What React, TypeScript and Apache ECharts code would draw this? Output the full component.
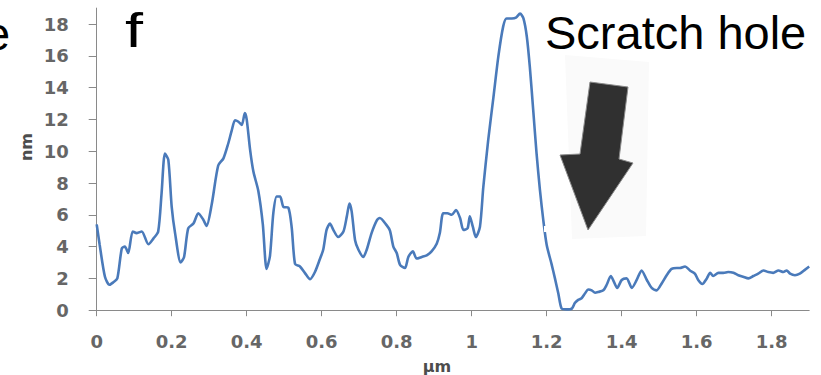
import React, { useEffect, useRef } from "react";
import * as echarts from "echarts";

// Lateral position along the scan (µm)
const positionsUm: number[] = [
  0, 0.008, 0.022, 0.034, 0.044, 0.055, 0.067, 0.075, 0.084, 0.096, 0.107, 0.12, 0.138, 0.151, 0.164, 0.173,
  0.182, 0.191, 0.2, 0.209, 0.224, 0.233, 0.244, 0.258, 0.271, 0.284, 0.293, 0.307, 0.324, 0.338, 0.351, 0.36,
  0.369, 0.378, 0.387, 0.395, 0.4, 0.409, 0.418, 0.431, 0.443, 0.453, 0.462, 0.471, 0.48, 0.489, 0.498, 0.511,
  0.52, 0.529, 0.542, 0.555, 0.569, 0.582, 0.595, 0.604, 0.613, 0.622, 0.631, 0.644, 0.658, 0.667, 0.674, 0.68,
  0.689, 0.698, 0.711, 0.72, 0.733, 0.747, 0.755, 0.773, 0.782, 0.791, 0.8, 0.809, 0.822, 0.831, 0.843, 0.853,
  0.867, 0.88, 0.893, 0.907, 0.915, 0.924, 0.935, 0.947, 0.958, 0.969, 0.978, 0.989, 0.995, 1.003, 1.011, 1.022,
  1.031, 1.044, 1.058, 1.071, 1.084, 1.093, 1.107, 1.118, 1.129, 1.138, 1.147, 1.155, 1.164, 1.173, 1.182, 1.191,
  1.2, 1.213, 1.222, 1.231, 1.24, 1.253, 1.267, 1.275, 1.284, 1.293, 1.302, 1.311, 1.32, 1.329, 1.338, 1.351,
  1.36, 1.371, 1.379, 1.388, 1.4, 1.413, 1.427, 1.44, 1.453, 1.467, 1.48, 1.493, 1.507, 1.52, 1.533, 1.547,
  1.555, 1.569, 1.582, 1.595, 1.604, 1.615, 1.627, 1.636, 1.644, 1.658, 1.671, 1.684, 1.698, 1.711, 1.724, 1.738,
  1.751, 1.764, 1.778, 1.791, 1.804, 1.818, 1.831, 1.84, 1.849, 1.862, 1.875, 1.889, 1.9,
];

// Surface height (nm)
const heightsNm: number[] = [
  5.4, 4.1, 2.1, 1.6, 1.75, 2.0, 3.9, 4.0, 3.6, 4.95, 4.85, 4.95, 4.15, 4.5, 4.95, 7.35,
  9.85, 9.45, 6.5, 4.85, 3.0, 3.35, 5.15, 5.45, 6.1, 5.7, 5.3, 6.7, 9.1, 9.55, 10.5, 11.3,
  11.95, 11.85, 11.65, 12.4, 12.0, 10.1, 8.7, 7.5, 5.4, 2.6, 3.4, 6.1, 7.15, 7.15, 6.5, 6.45,
  5.2, 2.9, 2.75, 2.35, 1.95, 2.4, 3.2, 3.8, 5.05, 5.45, 5.05, 4.6, 4.95, 5.9, 6.7, 6.2,
  4.4, 3.8, 3.35, 3.8, 4.85, 5.65, 5.8, 5.35, 5.0, 4.0, 3.6, 2.85, 2.65, 3.35, 3.7, 3.25,
  3.35, 3.45, 3.7, 4.2, 4.85, 6.1, 6.1, 6.0, 6.3, 5.8, 5.05, 5.15, 5.9, 5.25, 4.6, 5.25,
  7.75, 10.7, 13.4, 15.95, 17.85, 18.35, 18.35, 18.4, 18.65, 18.35, 17.2, 15.3, 12.6, 9.85, 7.55, 5.65,
  4.1, 2.9, 2.0, 1.05, 0.1, 0.05, 0.1, 0.45, 0.65, 0.75, 1.05, 1.3, 1.25, 1.1, 1.15, 1.25,
  1.6, 2.15, 1.8, 1.4, 1.9, 2.0, 1.4, 1.9, 2.5, 1.9, 1.4, 1.25, 1.7, 2.2, 2.6, 2.65,
  2.65, 2.75, 2.5, 2.3, 1.9, 1.65, 2.0, 2.35, 2.15, 2.35, 2.35, 2.4, 2.35, 2.2, 2.1, 2.0,
  2.15, 2.3, 2.5, 2.4, 2.35, 2.5, 2.4, 2.5, 2.3, 2.2, 2.3, 2.55, 2.75,
];

const xTickValues: number[] = [0, 0.2, 0.4, 0.6, 0.8, 1, 1.2, 1.4, 1.6, 1.8];
const yTickValues: number[] = [0, 2, 4, 6, 8, 10, 12, 14, 16, 18];

const xAxisName = "µm";
const yAxisName = "nm";
const panelLabel = "f";
const annotation = "Scratch hole";
const leftCutLetter = "e";

export default function App() {
  const ref = useRef<HTMLDivElement>(null);

  useEffect(() => {
    if (!ref.current) return;
    const chart = echarts.init(ref.current, undefined, { renderer: "svg" });
    const data = positionsUm.map((x, i) => [x, heightsNm[i]]);
    const axisGray = "#8a8a8a";
    const labelGray = "#666666";

    chart.setOption({
      animation: false,
      backgroundColor: "#ffffff",
      grid: { left: 96.7, right: 11.8, top: 8.1, bottom: 64.8, containLabel: false },
      xAxis: {
        type: "value",
        min: 0,
        max: 1.9,
        interval: 0.2,
        axisLine: { show: true, onZero: false, lineStyle: { color: axisGray, width: 1 } },
        axisTick: { show: true, length: 6, customValues: xTickValues, lineStyle: { color: axisGray } },
        axisLabel: {
          customValues: xTickValues,
          formatter: (v: number) => String(Math.round(v * 10) / 10),
          margin: 22,
          color: labelGray,
          fontSize: 18,
          fontWeight: "bold",
          fontFamily: "DejaVu Sans",
        },
        splitLine: { show: false },
      },
      yAxis: {
        type: "value",
        min: 0,
        max: 19,
        interval: 2,
        axisLine: { show: true, lineStyle: { color: axisGray, width: 1 } },
        axisTick: { show: true, length: 8, customValues: yTickValues, lineStyle: { color: axisGray } },
        axisLabel: {
          customValues: yTickValues,
          margin: 28,
          color: labelGray,
          fontSize: 18,
          fontWeight: "bold",
          fontFamily: "DejaVu Sans",
        },
        splitLine: { show: false },
      },
      series: [
        {
          type: "line",
          data,
          showSymbol: false,
          smooth: 0.25,
          lineStyle: { color: "#4a7aba", width: 2.6 },
          z: 3,
        },
      ],
      graphic: [
        {
          type: "polygon",
          shape: { points: [[565, 55], [649, 62], [646, 236], [572, 239]] },
          style: { fill: "#fafafa" },
          z: 1,
        },
        {
          type: "polygon",
          shape: { points: [[590, 82], [628, 87], [619, 159], [633, 163], [588, 230], [560, 155], [580, 154]] },
          style: { fill: "#303030", stroke: "#8a8a8a", lineWidth: 1 },
          z: 10,
        },
        {
          type: "rect",
          shape: { x: 544, y: 226, width: 4, height: 6 },
          style: { fill: "#ffffff" },
          z: 10,
        },
        {
          type: "text",
          x: 545,
          y: 32.5,
          style: {
            text: annotation,
            fontSize: 47,
            fontFamily: "Liberation Sans, Arial, sans-serif",
            fill: "#000000",
            align: "left",
            verticalAlign: "middle",
          },
          z: 10,
        },
        {
          type: "text",
          x: 125,
          y: 30,
          scaleX: 1.35,
          style: {
            text: panelLabel,
            fontSize: 48,
            fontFamily: "Liberation Sans, Arial, sans-serif",
            fill: "#000000",
            align: "left",
            verticalAlign: "middle",
          },
          z: 10,
        },
        {
          type: "text",
          x: -16,
          y: 33,
          style: {
            text: leftCutLetter,
            fontSize: 47,
            fontFamily: "Liberation Sans, Arial, sans-serif",
            fill: "#000000",
            align: "left",
            verticalAlign: "middle",
          },
          z: 10,
        },
        {
          type: "text",
          x: 26,
          y: 147,
          rotation: Math.PI / 2,
          style: {
            text: yAxisName,
            fontSize: 16,
            fontWeight: "bold",
            fontFamily: "DejaVu Sans",
            fill: "#4d4d4d",
            align: "center",
            verticalAlign: "middle",
          },
          z: 10,
        },
        {
          type: "text",
          x: 437,
          y: 366,
          style: {
            text: xAxisName,
            fontSize: 16,
            fontWeight: "bold",
            fontFamily: "DejaVu Sans",
            fill: "#4d4d4d",
            align: "center",
            verticalAlign: "middle",
          },
          z: 10,
        },
      ],
    });

    return () => chart.dispose();
  }, []);

  return (
    <div
      ref={ref}
      style={{ position: "fixed", left: 0, top: 0, width: 821, height: 375, background: "#ffffff" }}
    />
  );
}
